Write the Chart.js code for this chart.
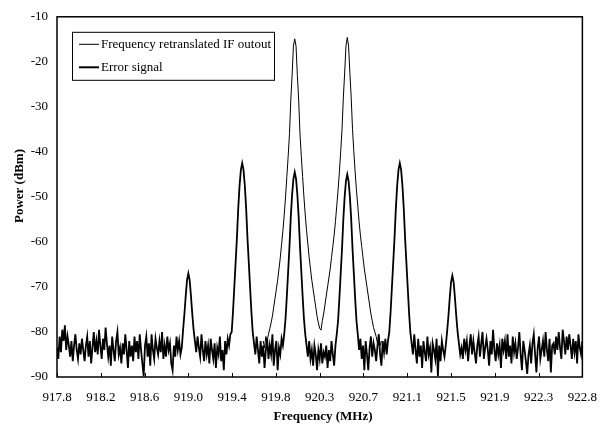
<!DOCTYPE html>
<html><head><meta charset="utf-8">
<script src="https://cdn.jsdelivr.net/npm/chart.js@4"></script>
<style>html,body{margin:0;padding:0;background:#fff}canvas{display:block}</style>
</head><body>
<canvas id="c" width="610" height="428"></canvas>
<script>
// ---- data ----
const seriesNames = ["Frequency retranslated IF outout", "Error signal"];
const xTitle = "Frequency (MHz)";
const yTitle = "Power (dBm)";
const xTickLabels = ["917.8","918.2","918.6","919.0","919.4","919.8","920.3","920.7","921.1","921.5","921.9","922.3","922.8"];
const xMin = 917.8, xMax = 922.8;
const yMin = -90, yMax = -10, yStep = 10;
// sweep grid (MHz)
const sweepStart = 917.8, sweepStep = 0.0125;
// Error signal (dBm), one value per sweep point (401 points)
const errorSignal = [
-83.5,-86,-81,-84.5,-79.5,-82,-78.5,-84,-81,-83,
-85.5,-82,-86.5,-83,-80.5,-84,-86,-82.5,-85,-81.5,
-84,-86.5,-83,-81,-85.5,-82,-87,-83.5,-80,-84.5,
-82,-85,-79.5,-83,-86,-81.5,-84,-79,-82.5,-85.5,
-83,-87.5,-81,-84,-86.5,-82,-80,-85,-83.5,-87,
-82.5,-85,-80.5,-84,-88,-82,-85.5,-83,-86.5,-81,
-84.5,-82,-86,-80.5,-84,-87,-89.8,-83,-81,-85.5,
-82.5,-87.5,-80.5,-84,-86,-81.5,-83.5,-85,-82,-84.5,
-80,-86,-83,-85.5,-81,-84,-82.5,-87,-88.5,-83,
-85.5,-81,-84,-82,-85,-83.5,-79.5,-76,-72,-68.5,
-67,-68.5,-72,-76,-79.5,-82,-84.5,-81,-83.5,-85.5,
-80.5,-84,-86.5,-82,-85,-83,-87,-81.5,-84,-86,
-82.5,-88,-83.5,-85,-81,-86.5,-84,-88.5,-82,-85,
-81.5,-83,-80.5,-80,-75.5,-70,-64.5,-59,-52.5,-47.5,
-44,-42.5,-44,-47.5,-52.5,-59,-64.5,-70,-75.5,-80,
-82.5,-85,-81,-84,-87,-82,-85.5,-83,-88,-84,
-81.5,-86,-83,-85,-80.5,-87.5,-84,-82,-88.5,-83.5,
-85,-81.5,-83,-80.5,-77,-72,-66.5,-61,-54.5,-49.5,
-46,-44.5,-46,-49.5,-54.5,-61,-66.5,-72,-77,-80.5,
-83,-85.5,-82,-86,-84,-87.5,-83,-85,-88.5,-84,
-86,-82.5,-87,-84.5,-85.5,-83,-88,-84,-86.5,-82,
-85,-87.5,-83,-80.5,-77.5,-72.5,-67,-61.5,-55,-50,
-46.5,-45,-46.5,-50,-55,-61.5,-67,-72.5,-77.5,-80.5,
-84,-81.5,-86,-83,-88.5,-82,-85,-88.5,-83.5,-81,
-85.5,-82.5,-84,-86.5,-83,-80.5,-85,-87.5,-82,-84.5,
-81.5,-85,-82,-80,-75.5,-70,-64.5,-59,-52.5,-47.5,
-44,-42.5,-44,-47.5,-52.5,-59,-64.5,-70,-75.5,-80,
-82.5,-85,-80.5,-84,-87,-81.5,-85.5,-83,-88,-82,
-84.5,-86.5,-81,-85,-83.5,-89,-82.5,-84,-86,-81.5,
-89.8,-83,-86.5,-82,-84,-85.5,-83,-80,-76.5,-72.5,
-69,-67.5,-69,-72.5,-76.5,-80,-82.5,-85,-83.5,-86,
-81.5,-84,-82,-86.5,-83,-80.5,-85,-82,-84.5,-87,
-83,-81,-85.5,-82.5,-80,-86,-83.5,-81.5,-84,-87.5,
-82,-85,-79.5,-84,-86.5,-82.5,-85,-83,-88,-81.5,
-84,-82,-86,-80.5,-85.5,-83,-87,-81,-84.5,-82.5,
-86,-83.5,-80,-85,-88.5,-82,-84,-86.5,-89.3,-85,
-83,-87,-82.5,-80.5,-85,-89,-83.5,-81,-86,-84,
-82,-85.5,-80,-84,-86.5,-81.5,-89,-83,-82.5,-85,
-81,-84,-80,-83.5,-86,-79.5,-82,-85,-81,-84,
-80.5,-83,-86,-81.5,-84.5,-82,-87,-80.5,-83.5,-85,-82
];
// Frequency retranslated IF output (dBm), sweep points 157..247
const ifOutputStartIndex = 157;
const ifOutput = [
-82,-83.5,-81,-82,-80.5,
-79.3,-78,-76.5,-74.5,-72.5,-70.5,-68.5,-66,-63.5,-60.5,
-57.5,-54,-50,-45.5,-41,-36,-28.5,-23,-16.5,-14.9,
-16.5,-23,-28.5,-36,-41,-45.5,-50,-54,-57.5,-60.5,
-63.5,-66,-68.5,-70.5,-72.5,-74.5,-76.5,-78,-79.2,-79.6,
-77.5,-76,-74,-72,-70,-68,-66,-63.5,-61,-58.5,
-55.5,-52,-48.5,-44.5,-40,-35,-28,-22.5,-16.5,-14.6,
-16.5,-22.5,-28,-35,-40,-44.5,-48.5,-52,-55.5,-58.5,
-61,-63.5,-66,-68,-70,-72,-74,-76,-77.5,-79,
-80,-81,-82.5,-81.5,-83,-82
];

// ---- build chart ----
const FONT = "'Liberation Serif', 'Times New Roman', serif";
const toPoints = (arr, startIdx) => arr.map((y, i) => ({x: sweepStart + (startIdx + i) * sweepStep, y}));

const framePlugin = {
  id: 'frame',
  afterDraw(chart) {
    const ctx = chart.ctx, a = chart.chartArea, xs = chart.scales.x;
    ctx.save();
    // inward x ticks
    ctx.strokeStyle = '#000'; ctx.lineWidth = 1;
    xs.ticks.forEach(t => {
      const px = Math.round(xs.getPixelForValue(t.value)) + 0.5;
      ctx.beginPath(); ctx.moveTo(px, a.bottom); ctx.lineTo(px, a.bottom - 4); ctx.stroke();
    });
    // frame
    ctx.lineWidth = 1.5;
    ctx.strokeRect(a.left, a.top, a.right - a.left, a.bottom - a.top);
    // legend box
    const lx = a.left + 15, ly = a.top + 15, lw = 202, lh = 48;
    ctx.fillStyle = '#fff';
    ctx.fillRect(lx, ly, lw, lh);
    ctx.lineWidth = 1; ctx.strokeStyle = '#000';
    ctx.strokeRect(lx + 0.5, ly + 0.5, lw, lh);
    const rows = [{y: ly + 12.5, w: 1}, {y: ly + 35.5, w: 2}];
    ctx.font = '13px ' + FONT; ctx.fillStyle = '#000';
    ctx.textBaseline = 'middle'; ctx.textAlign = 'left';
    rows.forEach((r, i) => {
      ctx.lineWidth = r.w;
      ctx.beginPath(); ctx.moveTo(lx + 7, r.y); ctx.lineTo(lx + 27, r.y); ctx.stroke();
      ctx.fillText(seriesNames[i], lx + 29, r.y);
    });
    // axis titles
    ctx.font = 'bold 13px ' + FONT;
    ctx.textAlign = 'center';
    ctx.fillText(xTitle, 323, 417);
    ctx.save();
    ctx.translate(20, 186); ctx.rotate(-Math.PI / 2);
    ctx.fillText(yTitle, 0, 0);
    ctx.restore();
    ctx.restore();
  }
};

new Chart(document.getElementById('c'), {
  type: 'line',
  data: {
    datasets: [
      {label: seriesNames[0], data: toPoints(ifOutput, ifOutputStartIndex), borderColor: '#000', borderWidth: 1, pointRadius: 0, tension: 0, fill: false},
      {label: seriesNames[1], data: toPoints(errorSignal, 0), borderColor: '#000', borderWidth: 1.8, pointRadius: 0, tension: 0, fill: false}
    ]
  },
  options: {
    responsive: false, animation: false, devicePixelRatio: 1,
    layout: {padding: {left: 0, top: 12, right: 26, bottom: 0}},
    plugins: {legend: {display: false}, tooltip: {enabled: false}},
    scales: {
      x: {
        type: 'linear', min: xMin, max: xMax,
        afterBuildTicks: s => { s.ticks = xTickLabels.map((_, i) => ({value: xMin + i * (xMax - xMin) / (xTickLabels.length - 1)})); },
        afterFit: s => { s.height = 51; },
        grid: {display: false, drawTicks: false},
        border: {display: false},
        ticks: {autoSkip: false, maxRotation: 0, padding: 13, color: '#000', font: {family: FONT, size: 13},
          callback: (v, i) => xTickLabels[i]}
      },
      y: {
        min: yMin, max: yMax,
        afterFit: s => { s.width = 57; },
        grid: {display: false, drawTicks: false},
        border: {display: false},
        ticks: {stepSize: yStep, padding: 9, color: '#000', font: {family: FONT, size: 13}}
      }
    }
  },
  plugins: [framePlugin]
});
</script>
</body></html>
